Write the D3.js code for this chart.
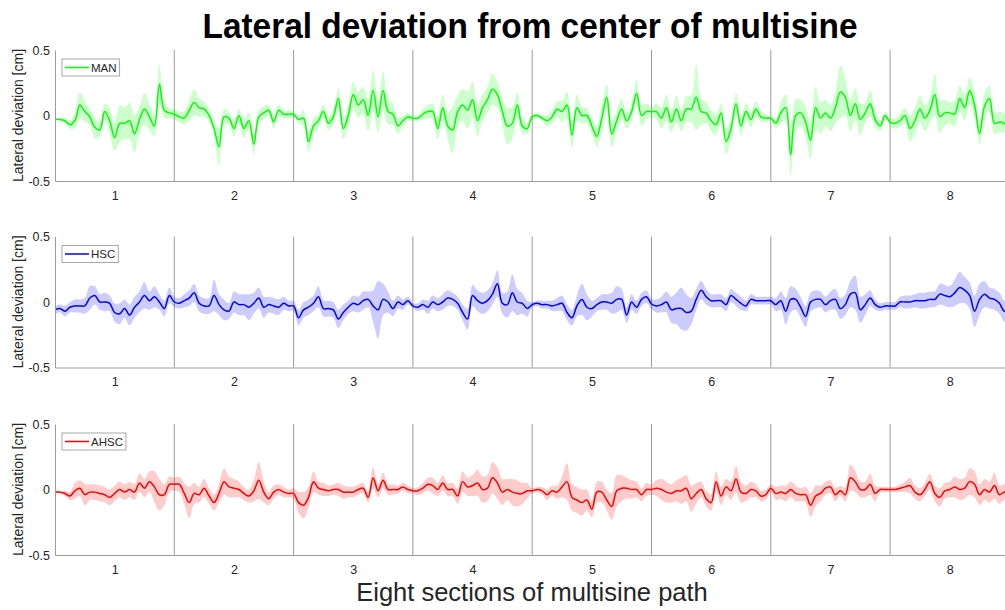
<!DOCTYPE html>
<html><head><meta charset="utf-8">
<script src="https://cdn.jsdelivr.net/npm/d3@7/dist/d3.min.js"></script>
<style>
body{margin:0;background:#fff;}
text{font-family:"Liberation Sans",Arial,Helvetica,sans-serif;}
</style>
</head><body>
<svg id="chart" width="1005" height="610"></svg>
<script>
// ---------------- DATA ----------------
const titleText = "Lateral deviation from center of multisine";
const xLabelText = "Eight sections of multisine path";
const yLabelText = "Lateral deviation [cm]";
const sections = ["1","2","3","4","5","6","7","8"];
const yTickValues = [-0.5, 0, 0.5];
const yTickLabels = ["-0.5", "0", "0.5"];
const seriesNames = ["MAN", "HSC", "AHSC"];
const samplesPerSection = 24;

// mean lateral deviation [cm], 24 samples per section + end point
const manMean = [
 -0.03,-0.03,-0.04,-0.07,-0.04,0.08,0.03,-0.01,-0.09,-0.11,0.03,-0.04,-0.17,-0.06,-0.06,-0.04,-0.14,-0.03,0.05,-0.01,-0.08,0.24,0.04,0.02,
 0.01,-0.01,-0.02,0.04,0.1,0.06,0.05,0.0,-0.1,-0.24,-0.01,-0.02,-0.1,0.0,-0.1,-0.04,-0.22,-0.01,0.02,0.04,-0.05,0.04,0.01,0.01,
 0.01,-0.03,-0.02,-0.2,-0.08,-0.04,0.03,-0.06,-0.01,0.13,-0.1,0.0,0.16,0.08,0.12,0.0,0.19,-0.01,0.19,0.03,0.01,-0.08,-0.04,-0.01,
 -0.02,-0.02,0.01,0.03,0.03,-0.1,0.06,-0.08,-0.11,0.03,0.08,0.04,0.12,-0.04,0.06,0.12,0.2,0.16,0.03,-0.08,-0.06,0.08,-0.08,-0.1,
 -0.01,0.0,-0.02,-0.04,-0.01,0.05,0.03,0.08,-0.15,0.06,0.0,0.0,-0.08,-0.16,-0.02,0.14,-0.14,-0.04,0.05,-0.04,0.03,0.17,0.0,0.03,
 0.03,0.03,-0.02,0.06,-0.05,0.05,-0.04,0.05,0.05,0.14,0.03,0.02,-0.04,-0.07,0.02,-0.2,-0.1,0.09,-0.08,0.03,-0.03,0.05,-0.01,-0.02,
 -0.02,-0.06,0.02,0.06,-0.3,0.0,0.02,-0.05,-0.19,0.06,-0.02,0.02,-0.02,0.06,0.18,0.14,0.0,0.09,-0.03,0.02,0.09,-0.03,-0.08,0.0,
 -0.05,-0.06,-0.04,0.0,-0.1,-0.04,0.05,-0.02,0.04,0.16,-0.01,0.02,0.02,0.01,0.13,0.06,0.19,0.08,-0.14,0.07,0.13,-0.06,-0.05,-0.06,
 -0.2
];
const manSpread = [
 0.01,0.01,0.02,0.03,0.06,0.1,0.08,0.06,0.08,0.06,0.06,0.1,0.1,0.14,0.12,0.14,0.14,0.1,0.12,0.1,0.08,0.15,0.06,0.04,
 0.04,0.04,0.05,0.08,0.1,0.07,0.06,0.05,0.06,0.14,0.06,0.05,0.06,0.05,0.07,0.06,0.08,0.05,0.05,0.04,0.05,0.04,0.03,0.03,
 0.02,0.03,0.06,0.08,0.06,0.05,0.05,0.05,0.06,0.08,0.08,0.08,0.1,0.1,0.1,0.12,0.16,0.12,0.15,0.1,0.08,0.06,0.04,0.03,
 0.02,0.02,0.04,0.05,0.06,0.08,0.1,0.1,0.18,0.12,0.12,0.14,0.14,0.12,0.1,0.1,0.12,0.1,0.1,0.14,0.12,0.1,0.06,0.04,
 0.02,0.02,0.02,0.04,0.05,0.06,0.08,0.1,0.1,0.1,0.06,0.06,0.06,0.08,0.1,0.1,0.1,0.08,0.08,0.06,0.06,0.1,0.08,0.06,
 0.04,0.06,0.08,0.1,0.08,0.1,0.08,0.1,0.1,0.25,0.1,0.08,0.08,0.08,0.07,0.1,0.08,0.08,0.07,0.07,0.06,0.06,0.04,0.03,
 0.02,0.04,0.08,0.1,0.16,0.12,0.1,0.12,0.14,0.16,0.12,0.1,0.1,0.12,0.2,0.14,0.12,0.12,0.12,0.08,0.1,0.06,0.04,0.03,
 0.03,0.04,0.05,0.06,0.1,0.1,0.1,0.1,0.1,0.16,0.12,0.1,0.08,0.1,0.1,0.1,0.1,0.1,0.08,0.1,0.1,0.08,0.08,0.07,
 0.08
];
const hscMean = [
 -0.06,-0.05,-0.07,-0.04,-0.03,-0.03,-0.03,0.03,0.05,0.0,0.0,-0.01,-0.08,-0.09,-0.05,-0.1,-0.04,0.0,0.05,0.01,0.04,0.0,-0.05,0.05,
 0.0,-0.01,0.01,0.03,0.07,-0.01,-0.03,-0.03,0.05,-0.02,-0.06,-0.07,0.0,-0.02,-0.02,-0.04,-0.01,0.03,-0.04,-0.02,-0.03,-0.04,-0.01,-0.03,
 -0.03,-0.12,-0.06,-0.04,-0.01,0.04,-0.05,-0.05,-0.06,-0.13,-0.08,-0.04,-0.01,-0.02,0.01,0.02,-0.03,-0.06,0.02,0.0,-0.05,0.0,-0.02,0.01,
 -0.03,-0.04,-0.02,-0.04,0.0,-0.02,0.0,0.03,0.02,-0.01,-0.08,-0.13,0.05,0.01,-0.01,0.01,0.06,0.14,-0.01,-0.02,0.07,0.0,-0.01,-0.05,
 -0.02,-0.01,-0.02,-0.02,-0.03,-0.02,-0.01,-0.08,-0.12,-0.03,0.02,-0.04,-0.05,-0.02,0.0,0.0,-0.01,0.02,0.02,-0.1,0.0,-0.04,0.02,0.04,
 -0.015,-0.03,-0.02,0.0,-0.06,-0.05,-0.05,-0.08,-0.07,0.02,0.09,0.04,0.01,0.01,0.01,-0.02,0.05,0.02,-0.01,-0.03,0.02,0.01,0.01,0.01,
 0.01,-0.02,0.01,-0.07,0.02,0.02,-0.04,-0.11,0.0,0.02,0.02,-0.02,0.01,0.02,-0.05,-0.02,0.06,0.07,-0.06,-0.02,0.03,-0.02,-0.04,-0.03,
 -0.03,-0.03,0.0,0.0,0.0,0.01,0.01,0.01,0.02,0.02,0.06,0.05,0.04,0.07,0.11,0.09,0.05,-0.07,0.02,0.06,0.03,0.02,-0.01,-0.07,
 -0.04
];
const hscSpread = [
 0.03,0.03,0.04,0.04,0.05,0.05,0.06,0.09,0.07,0.06,0.07,0.06,0.07,0.08,0.07,0.08,0.08,0.08,0.1,0.07,0.08,0.06,0.06,0.06,
 0.04,0.04,0.05,0.06,0.07,0.06,0.06,0.06,0.12,0.08,0.08,0.06,0.08,0.08,0.08,0.1,0.08,0.08,0.08,0.06,0.06,0.06,0.05,0.04,
 0.04,0.06,0.06,0.06,0.06,0.08,0.06,0.06,0.06,0.07,0.06,0.05,0.06,0.06,0.07,0.06,0.12,0.22,0.12,0.08,0.06,0.05,0.04,0.03,
 0.02,0.03,0.04,0.05,0.05,0.05,0.06,0.06,0.05,0.05,0.06,0.08,0.08,0.08,0.08,0.08,0.08,0.1,0.08,0.1,0.14,0.1,0.08,0.06,
 0.02,0.02,0.03,0.03,0.04,0.05,0.06,0.06,0.06,0.08,0.12,0.1,0.06,0.05,0.06,0.06,0.08,0.1,0.08,0.06,0.06,0.05,0.05,0.05,
 0.04,0.05,0.06,0.08,0.1,0.12,0.16,0.14,0.1,0.08,0.07,0.06,0.05,0.05,0.05,0.05,0.05,0.05,0.05,0.04,0.04,0.03,0.03,0.03,
 0.03,0.05,0.07,0.1,0.1,0.08,0.08,0.08,0.07,0.07,0.06,0.06,0.07,0.08,0.08,0.08,0.1,0.13,0.1,0.08,0.06,0.04,0.03,0.03,
 0.03,0.03,0.04,0.05,0.05,0.05,0.06,0.06,0.06,0.06,0.08,0.08,0.08,0.1,0.12,0.1,0.1,0.12,0.12,0.1,0.08,0.08,0.08,0.08,
 0.06
];
const ahscMean = [
 -0.02,-0.02,-0.03,-0.05,-0.01,0.01,-0.04,-0.02,-0.02,-0.03,-0.04,-0.06,-0.03,0.0,-0.02,0.0,-0.02,0.05,0.01,0.06,0.02,-0.04,-0.04,0.04,
 0.04,0.04,-0.03,-0.1,-0.03,-0.04,0.01,-0.05,-0.1,-0.03,0.06,0.02,0.01,0.0,-0.03,-0.05,-0.01,0.07,-0.02,-0.07,-0.02,0.0,-0.02,-0.03,
 -0.03,-0.1,-0.12,-0.06,0.06,0.01,0.0,-0.01,0.0,0.0,-0.02,-0.02,-0.02,0.0,0.01,-0.06,0.09,-0.01,0.07,0.0,0.0,0.0,0.02,0.0,
 -0.01,-0.01,0.01,0.04,0.03,0.0,0.05,0.0,0.0,-0.05,0.06,0.02,0.03,0.05,0.0,0.01,0.09,0.05,-0.02,0.0,-0.02,-0.03,-0.03,-0.01,
 -0.01,0.0,-0.01,-0.04,-0.01,-0.02,0.02,0.06,-0.06,-0.08,-0.1,-0.08,-0.15,-0.02,-0.02,-0.08,-0.13,-0.01,0.01,0.01,0.0,0.0,-0.04,0.0,
 0.0,0.01,0.0,-0.02,-0.03,-0.01,-0.01,0.01,-0.07,-0.03,0.0,-0.07,-0.1,0.06,-0.05,0.02,-0.01,0.08,-0.02,-0.03,0.0,-0.01,-0.05,-0.04,
 0.01,-0.03,-0.02,-0.03,0.0,-0.03,-0.04,-0.04,-0.12,-0.05,-0.03,0.01,0.02,-0.04,-0.01,-0.04,0.09,0.06,0.0,0.0,0.04,-0.03,0.0,0.0,
 0.0,0.0,0.01,0.02,0.03,-0.02,-0.04,0.0,0.06,-0.03,-0.06,-0.01,0.0,0.02,0.0,0.01,0.06,0.04,-0.04,0.0,-0.02,0.03,-0.04,-0.02,
 -0.03
];
const ahscSpread = [
 0.01,0.01,0.02,0.03,0.06,0.06,0.08,0.06,0.06,0.06,0.06,0.06,0.06,0.06,0.06,0.06,0.06,0.07,0.07,0.08,0.12,0.12,0.08,0.06,
 0.05,0.06,0.08,0.12,0.08,0.06,0.07,0.06,0.06,0.07,0.1,0.08,0.07,0.06,0.05,0.05,0.08,0.14,0.08,0.05,0.05,0.04,0.04,0.03,
 0.04,0.08,0.1,0.08,0.08,0.05,0.05,0.04,0.04,0.05,0.05,0.04,0.04,0.04,0.04,0.04,0.08,0.05,0.06,0.04,0.04,0.03,0.03,0.03,
 0.02,0.03,0.04,0.05,0.06,0.05,0.06,0.05,0.05,0.06,0.08,0.07,0.08,0.1,0.1,0.1,0.12,0.12,0.1,0.08,0.1,0.1,0.08,0.06,
 0.02,0.02,0.03,0.04,0.04,0.05,0.08,0.14,0.1,0.1,0.1,0.08,0.06,0.08,0.08,0.08,0.1,0.12,0.1,0.08,0.07,0.06,0.05,0.05,
 0.04,0.06,0.08,0.08,0.07,0.08,0.1,0.1,0.1,0.08,0.06,0.06,0.06,0.08,0.07,0.06,0.07,0.1,0.08,0.06,0.06,0.05,0.04,0.04,
 0.03,0.05,0.05,0.06,0.06,0.06,0.05,0.06,0.09,0.08,0.06,0.05,0.05,0.05,0.04,0.05,0.1,0.08,0.06,0.06,0.08,0.06,0.02,0.02,
 0.02,0.02,0.03,0.04,0.06,0.05,0.05,0.05,0.06,0.06,0.07,0.06,0.06,0.08,0.08,0.08,0.1,0.1,0.08,0.08,0.08,0.1,0.07,0.06,
 0.05
];

// ---------------- LAYOUT / STYLE ----------------
const panels = [
  {name: seriesNames[0], mean: manMean,  spread: manSpread,  color: "#00ff00", top: 50},
  {name: seriesNames[1], mean: hscMean,  spread: hscSpread,  color: "#0000ff", top: 236.5},
  {name: seriesNames[2], mean: ahscMean, spread: ahscSpread, color: "#ff0000", top: 424}
];
const panelH = 131;
const left = 55, sectionW = 119.3;
const textColor = "#262626";
const axisColor = "#9a9a9a";

const svg = d3.select("#chart");
const x = d3.scaleLinear().domain([0.5, sections.length + 0.5]).range([left, left + sectionW * sections.length]);

svg.append("defs").append("clipPath").attr("id","clip")
  .append("rect").attr("x", left).attr("y", 0).attr("width", 1005 - left).attr("height", 610);

panels.forEach((p, pi) => {
  const y = d3.scaleLinear().domain([-0.5, 0.5]).range([p.top + panelH, p.top]);
  const g = svg.append("g");
  const pts = p.mean.map((m, i) => ({x: 0.5 + i / samplesPerSection, m: m, s: p.spread[i]}));

  // section separators
  g.selectAll("line.sep").data(d3.range(1, sections.length)).enter().append("line")
    .attr("x1", d => x(d + 0.5)).attr("x2", d => x(d + 0.5))
    .attr("y1", y(0.5)).attr("y2", y(-0.5))
    .attr("stroke", axisColor).attr("stroke-width", 1);

  const dg = g.append("g").attr("clip-path", "url(#clip)");
  const curve = d3.curveCatmullRom.alpha(0.5);
  dg.append("path").datum(pts)
    .attr("d", d3.area().x(d => x(d.x)).y0(d => y(d.m - d.s)).y1(d => y(d.m + d.s)).curve(curve))
    .attr("fill", p.color).attr("fill-opacity", 0.2).attr("stroke", "none");
  dg.append("path").datum(pts)
    .attr("d", d3.line().x(d => x(d.x)).y(d => y(d.m)).curve(curve))
    .attr("fill", "none").attr("stroke", p.color).attr("stroke-width", 1.5).attr("stroke-linejoin","round");

  // y axis (no tick marks)
  const yAxis = d3.axisLeft(y).tickValues(yTickValues).tickFormat((d, i) => yTickLabels[i]).tickSize(0).tickPadding(5);
  const ya = g.append("g").attr("transform", `translate(${left},0)`).call(yAxis);
  ya.select(".domain").attr("stroke", axisColor);
  ya.selectAll("text").attr("fill", textColor).style("font-size", "12.5px").style("font-family", '"Liberation Sans",Arial,sans-serif');

  // x axis
  const xAxis = d3.axisBottom(x).tickValues(d3.range(1, sections.length + 1)).tickFormat((d, i) => sections[i]).tickSize(0).tickPadding(10);
  const xa = g.append("g").attr("transform", `translate(0,${p.top + panelH})`).call(xAxis);
  xa.select(".domain").attr("stroke", axisColor);
  xa.selectAll("text").attr("fill", textColor).style("font-size", "12.5px").style("font-family", '"Liberation Sans",Arial,sans-serif');

  // y label
  g.append("text").attr("transform", `translate(23,${p.top + panelH / 2}) rotate(-90)`)
    .attr("text-anchor", "middle").attr("fill", textColor).style("font-size", "14px").text(yLabelText);

  // legend
  const lg = g.append("g").attr("transform", `translate(62,${p.top + 9})`);
  const box = lg.append("rect").attr("x", 0).attr("y", 0).attr("height", 17).attr("fill", "#fff").attr("stroke", "#a8a8a8").attr("stroke-width", 1);
  lg.append("line").attr("x1", 3).attr("x2", 27).attr("y1", 8.5).attr("y2", 8.5).attr("stroke", p.color).attr("stroke-width", 1.5);
  const lt = lg.append("text").attr("x", 29).attr("y", 12.5).attr("fill", textColor).style("font-size", "11.5px").text(p.name);
  box.attr("width", 29 + lt.node().getComputedTextLength() + 3);
});

// title
svg.append("text").attr("x", 530).attr("y", 38).attr("text-anchor", "middle")
  .attr("fill", "#000").style("font-size", "35px").style("font-weight", "bold")
  .attr("textLength", 655).attr("lengthAdjust", "spacingAndGlyphs").text(titleText);

// x label
svg.append("text").attr("x", 532).attr("y", 601).attr("text-anchor", "middle")
  .attr("fill", textColor).style("font-size", "25.5px").text(xLabelText);
</script>
</body></html>
